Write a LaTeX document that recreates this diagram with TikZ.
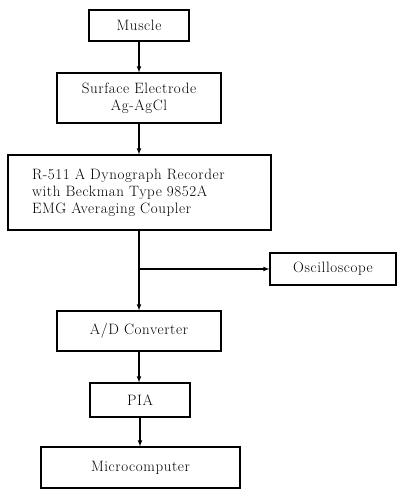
\documentclass[tikz,border=0pt]{standalone}
\usepackage{fontspec}
\newfontfamily\blkfont{Latin Modern Roman}[LetterSpace=4]
\usetikzlibrary{arrows,calc}
\tikzset{
  blk/.style={draw,line width=1.1pt,inner sep=0pt,align=center,
    font=\blkfont\fontsize{15}{17}\selectfont},
  flow/.style={line width=1.1pt,-latex}
}

\begin{document}
\begin{tikzpicture}[x=1pt,y=-1pt]
\useasboundingbox (0,0) rectangle (398,490);

\node[blk,minimum width=100pt,minimum height=31pt] (muscle) at (139,25.5) {Muscle};
\node[blk,minimum width=164pt,minimum height=50pt] (elec) at (139,98) {Surface Electrode\\Ag-AgCl};
\node[blk,minimum width=263pt,minimum height=75pt,align=left,text width=215pt] (rec) at (139.5,192.5)
  {R-511 A Dynograph Recorder\\with Beckman Type 9852A\\EMG Averaging Coupler};
\node[blk,minimum width=126pt,minimum height=32pt] (osc) at (333,269) {Oscilloscope};
\node[blk,minimum width=164pt,minimum height=40pt] (adc) at (139,331) {A/D Converter};
\node[blk,minimum width=100pt,minimum height=34pt] (pia) at (140,400) {PIA};
\node[blk,minimum width=199pt,minimum height=41pt] (micro) at (140.5,467.5) {Microcomputer};

\coordinate (tap) at (139,269);

\draw[flow] (muscle.south) -- (elec.north);
\draw[flow] (elec.south) -- (rec.north-|elec.south);
\draw[flow] (rec.south-|tap) -- (adc.north);
\draw[flow] (tap) -- (osc.west);
\draw[flow] (adc.south) -- (adc.south|-pia.north);
\draw[flow] (pia.south) -- (micro.north-|pia.south);

\end{tikzpicture}
\end{document}
